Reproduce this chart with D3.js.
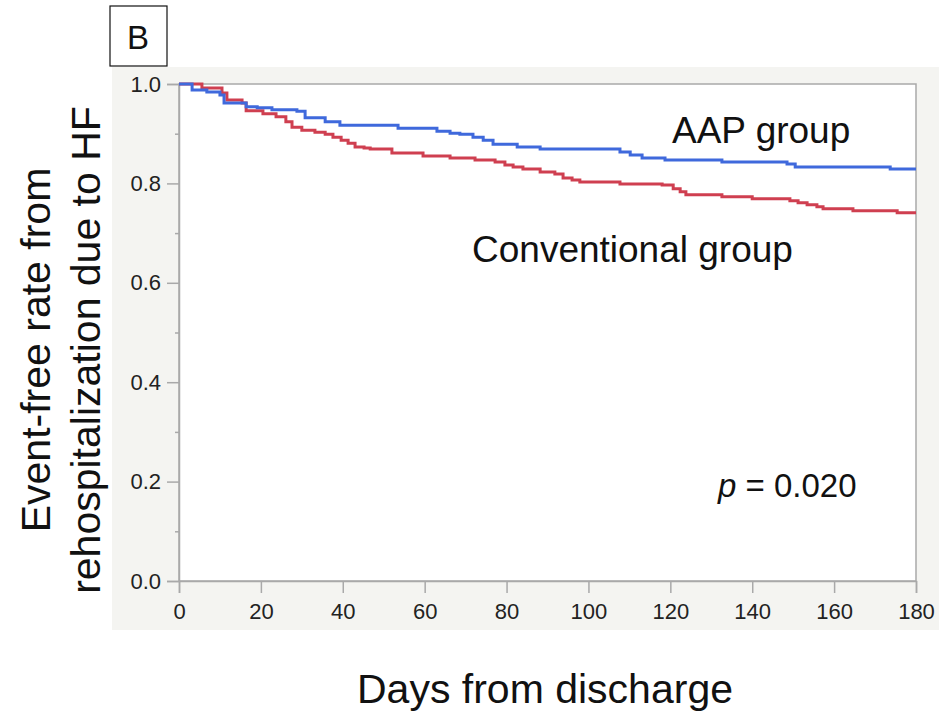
<!DOCTYPE html>
<html>
<head>
<meta charset="utf-8">
<script src="https://cdn.jsdelivr.net/npm/d3@7"></script>
<style>
  body { margin: 0; background: #fff; }
  svg { display: block; font-family: "Liberation Sans", Arial, sans-serif; }
</style>
</head>
<body>
<div id="chart"></div>
<script>
const width = 939;
const height = 711;

// Kaplan-Meier steps (day, event-free rate)
const aapDays = [0, 3.2, 6.8, 10.0, 11.0, 16.4, 19.1, 22.7, 28.8, 30.8, 35.7, 39.3, 53.5, 63.0, 66.2, 68.6, 71.8, 74.3, 76.7, 82.6, 88.2, 107.7, 110.2, 113.1, 118.7, 132.6, 148.5, 150.5, 173.7, 180];
const aapRate = [1.0, 0.988, 0.984, 0.978, 0.962, 0.954, 0.952, 0.948, 0.945, 0.932, 0.924, 0.917, 0.911, 0.905, 0.901, 0.899, 0.893, 0.887, 0.879, 0.873, 0.869, 0.863, 0.857, 0.851, 0.847, 0.843, 0.839, 0.833, 0.829, 0.829];

const convDays = [0, 5.6, 10.5, 11.7, 15.4, 16.4, 20.5, 23.7, 26.1, 27.6, 30.0, 33.2, 35.7, 37.6, 39.6, 41.3, 43.0, 45.2, 46.7, 52.0, 59.6, 66.2, 72.3, 77.2, 79.6, 81.6, 84.0, 88.2, 91.8, 93.8, 96.0, 97.9, 107.7, 118.0, 120.7, 122.4, 123.8, 132.6, 140.0, 149.2, 151.2, 153.4, 155.8, 157.3, 164.6, 175.4, 180];
const convRate = [1.0, 0.992, 0.982, 0.968, 0.962, 0.946, 0.940, 0.934, 0.924, 0.913, 0.907, 0.903, 0.899, 0.893, 0.887, 0.881, 0.873, 0.871, 0.869, 0.861, 0.855, 0.851, 0.847, 0.843, 0.837, 0.833, 0.829, 0.823, 0.819, 0.811, 0.807, 0.803, 0.799, 0.797, 0.789, 0.783, 0.777, 0.773, 0.769, 0.765, 0.761, 0.757, 0.753, 0.749, 0.745, 0.741, 0.741];

const xTicks = [0, 20, 40, 60, 80, 100, 120, 140, 160, 180];
const yTicks = [0, 0.2, 0.4, 0.6, 0.8, 1.0];
const yMinorTicks = [0.1, 0.3, 0.5, 0.7, 0.9];

const svg = d3.select("#chart").append("svg")
    .attr("width", width)
    .attr("height", height);

const x = d3.scaleLinear().domain([0, 180]).range([179, 916]);
const y = d3.scaleLinear().domain([0, 1]).range([581, 84]);

// grey panel behind the plot
svg.append("rect")
    .attr("x", 112).attr("y", 67)
    .attr("width", width - 112).attr("height", 630 - 67)
    .attr("fill", "#f4f4f1");

svg.append("rect")
    .attr("x", x(0)).attr("y", y(1))
    .attr("width", x(180) - x(0)).attr("height", y(0) - y(1))
    .attr("fill", "#fff")
    .attr("stroke", "#a9a9a9")
    .attr("stroke-width", 1.5);

// axes
svg.append("g")
    .attr("transform", `translate(0,${y(0)})`)
    .call(d3.axisBottom(x).tickValues(xTicks).tickSize(12).tickPadding(10).tickFormat(d3.format("d")));

svg.append("g")
    .attr("transform", `translate(${x(0)},0)`)
    .call(d3.axisLeft(y).tickValues(yTicks).tickSize(12).tickPadding(6).tickFormat(d3.format(".1f")));

svg.append("g")
    .attr("transform", `translate(${x(0)},0)`)
    .call(d3.axisLeft(y).tickValues(yMinorTicks).tickSize(4).tickFormat(""))
    .select(".domain").remove();

svg.selectAll(".domain, .tick line")
    .attr("stroke", "#a9a9a9")
    .attr("stroke-width", 1.5);

svg.selectAll(".tick text")
    .attr("fill", "#222")
    .style("font-size", "22px")
    .style("font-family", "Liberation Sans, Arial, sans-serif");

// survival curves
const line = d3.line()
    .x(d => x(d[0]))
    .y(d => y(d[1]))
    .curve(d3.curveStepAfter);

svg.append("path")
    .datum(convDays.map((d, i) => [d, convRate[i]]))
    .attr("fill", "none")
    .attr("stroke", "#cf3f50")
    .attr("stroke-width", 3)
    .attr("d", line);

svg.append("path")
    .datum(aapDays.map((d, i) => [d, aapRate[i]]))
    .attr("fill", "none")
    .attr("stroke", "#3f69dc")
    .attr("stroke-width", 3)
    .attr("d", line);

// labels
svg.append("text")
    .attr("x", 672).attr("y", 143)
    .attr("fill", "#111")
    .style("font-size", "37px")
    .text("AAP group");

svg.append("text")
    .attr("x", 472).attr("y", 262)
    .attr("fill", "#111")
    .style("font-size", "37px")
    .text("Conventional group");

const pText = svg.append("text")
    .attr("x", 718).attr("y", 497)
    .attr("fill", "#111")
    .style("font-size", "33px");
pText.append("tspan").style("font-style", "italic").text("p");
pText.append("tspan").text(" = 0.020");

// panel letter
svg.append("rect")
    .attr("x", 110).attr("y", 6)
    .attr("width", 57).attr("height", 60)
    .attr("fill", "#fff")
    .attr("stroke", "#111")
    .attr("stroke-width", 1.2);

svg.append("text")
    .attr("x", 138).attr("y", 49)
    .attr("text-anchor", "middle")
    .attr("fill", "#111")
    .style("font-size", "33px")
    .text("B");

// axis titles
svg.append("text")
    .attr("x", 545).attr("y", 703)
    .attr("text-anchor", "middle")
    .attr("fill", "#111")
    .style("font-size", "41px")
    .text("Days from discharge");

const yTitle = svg.append("text")
    .attr("transform", "translate(0,350) rotate(-90)")
    .attr("text-anchor", "middle")
    .attr("fill", "#111")
    .style("font-size", "41px");
yTitle.append("tspan").attr("x", 0).attr("y", 50).text("Event-free rate from");
yTitle.append("tspan").attr("x", 0).attr("y", 100).text("rehospitalization due to HF");
</script>
</body>
</html>
